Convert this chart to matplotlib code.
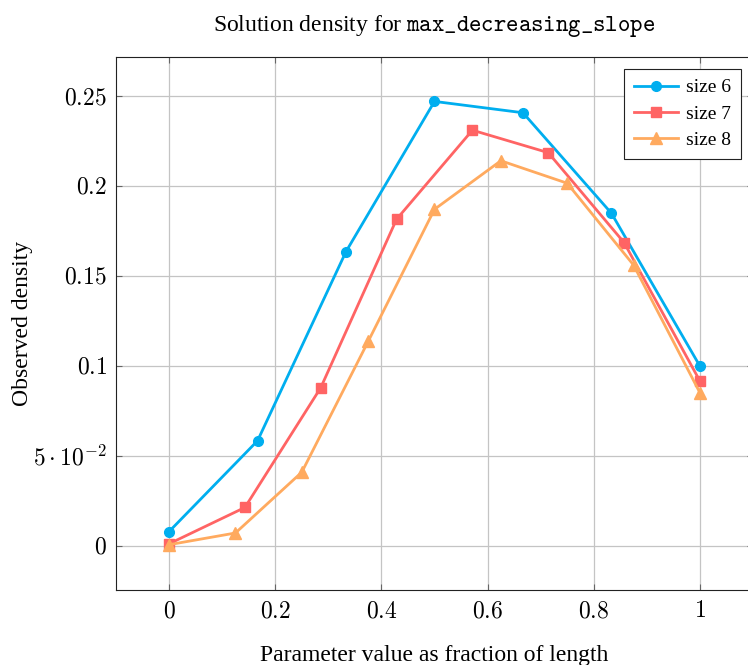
import matplotlib.pyplot as plt
from matplotlib.ticker import FixedLocator, FixedFormatter

plt.rcParams['font.family'] = ['Liberation Serif', 'DejaVu Serif']
plt.rcParams['mathtext.fontset'] = 'cm'

# data
x6 = [0, 1/6, 2/6, 3/6, 4/6, 5/6, 1]
y6 = [0.0078, 0.0583, 0.1635, 0.2470, 0.2407, 0.1848, 0.0998]
x7 = [0, 1/7, 2/7, 3/7, 4/7, 5/7, 6/7, 1]
y7 = [0.0010, 0.0212, 0.0878, 0.1815, 0.2310, 0.2185, 0.1685, 0.0915]
x8 = [0, 1/8, 2/8, 3/8, 4/8, 5/8, 6/8, 7/8, 1]
y8 = [0.0005, 0.0070, 0.0408, 0.1135, 0.1870, 0.2140, 0.2015, 0.1560, 0.0850]

xticks = [0, 0.2, 0.4, 0.6, 0.8, 1]
xlabels = ['$0$', '$0.2$', '$0.4$', '$0.6$', '$0.8$', '$1$']
yticks = [0, 0.05, 0.1, 0.15, 0.2, 0.25]
ylabels = ['$0$', r'$5\cdot10^{-2}$', '$0.1$', '$0.15$', '$0.2$', '$0.25$']

fig = plt.figure(figsize=(7.48, 6.65), dpi=100)
# axes run past the right edge of the picture, as in the reference
ax = fig.add_axes([116 / 748, 75 / 665, 637 / 748, 533 / 665])

ax.plot(x6, y6, color='#00AEEF', lw=2, marker='o', ms=7, label='size 6')
ax.plot(x7, y7, color='#FF6464', lw=2, marker='s', ms=7, label='size 7')
ax.plot(x8, y8, color='#FFAA5F', lw=2, marker='^', ms=8, label='size 8')

ax.set_xlim(-0.1, 1.1)
ax.set_ylim(-0.0247, 0.2717)
ax.xaxis.set_major_locator(FixedLocator(xticks))
ax.xaxis.set_major_formatter(FixedFormatter(xlabels))
ax.yaxis.set_major_locator(FixedLocator(yticks))
ax.yaxis.set_major_formatter(FixedFormatter(ylabels))
ax.tick_params(labelsize=17, direction='in', length=4, width=0.8, color='#666666',
               top=True, right=True)
ax.tick_params(axis='x', pad=8)
ax.tick_params(axis='y', pad=6.5)
ax.grid(True, color='#C4C4C4', lw=0.9)
ax.set_axisbelow(True)
for s in ax.spines.values():
    s.set_linewidth(0.8)
    s.set_color('#222222')

ax.set_xlabel('Parameter value as fraction of length', fontsize=17)
ax.xaxis.set_label_coords(0.5, -0.104)
ax.set_ylabel('Observed density', fontsize=17)
ax.yaxis.set_label_coords(-0.130, 0.5)
ax.set_title(r'Solution density for $\mathtt{max\_decreasing\_slope}$', fontsize=17, pad=19)

leg = ax.legend(loc='upper right', fontsize=14, fancybox=False, edgecolor='#222222',
                framealpha=1, handlelength=2.3, borderaxespad=0.62, borderpad=0.5,
                labelspacing=0.45, handletextpad=0.4)
leg.get_frame().set_linewidth(0.8)

fig.savefig('out.png')
